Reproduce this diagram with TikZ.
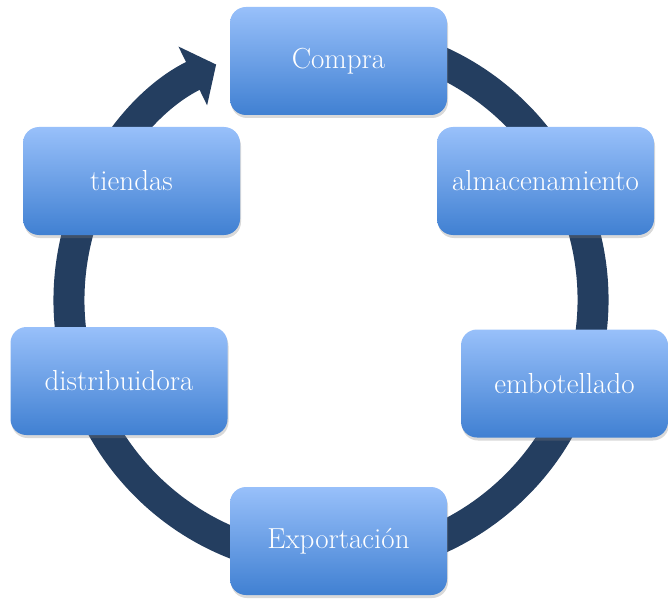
\documentclass[tikz,border=0pt]{standalone}
\usepackage{xcolor}
\usepackage{tikz}
\usetikzlibrary{arrows.meta}
\usetikzlibrary{shadows}
\definecolor{ringblue}{RGB}{36,62,96}
\definecolor{boxtop}{RGB}{152,192,250}
\definecolor{boxbottom}{RGB}{64,128,210}

\begin{document}
\begin{tikzpicture}[x=1pt,y=1pt,
  paso/.style={rectangle, rounded corners=16pt, minimum width=217pt, minimum height=108pt,
    top color=boxtop, bottom color=boxbottom, text=white, font=\fontsize{29}{33}\selectfont,
    drop shadow={opacity=0.3,shadow xshift=1pt,shadow yshift=-3pt}}]
\useasboundingbox (0,0) rectangle (668,598);
\coordinate (centro) at (331,298);
% ciclo
\draw[color=ringblue, line width=31pt, -{Triangle[length=26pt,width=64pt]}] ([shift={(80:262)}]centro) arc (80:-244:262);
% pasos
\node[paso] (compra) at (338.5,537) {Compra};
\node[paso] (almacen) at (545.5,417) {almacenamiento};
\node[paso, minimum width=207pt] (embotellado) at (564.5,214.5) {embotellado};
\node[paso] (exportacion) at (338.5,57) {Exportaci\'on};
\node[paso] (distribuidora) at (119,217) {distribuidora};
\node[paso] (tiendas) at (131.5,417) {tiendas};
\end{tikzpicture}
\end{document}
